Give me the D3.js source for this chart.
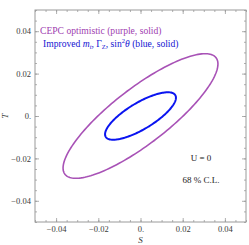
<!DOCTYPE html>
<html><head><meta charset="utf-8">
<script src="https://cdn.jsdelivr.net/npm/d3@7"></script>
<style>
html,body{margin:0;padding:0;background:#fff;}
svg{display:block;}
svg text{font-family:"Liberation Serif","Times New Roman",serif;}
</style></head>
<body><svg id="c" width="249" height="245"></svg>
<script>
// Data: ellipse contours (68% C.L.)
const seriesNames = ["CEPC optimistic", "Improved"];
const centerS = [0, 0];
const centerT = [0, 0];
const sigmaS = [0.0367, 0.0168];
const sigmaT = [0.0294, 0.0112];
const rho = [0.835, 0.77];
const colors = ["#a852b6", "#0a14f0"];
const widths = [1.6, 2.0];
const majorTicks = [-0.04, -0.02, 0, 0.02, 0.04];
const tickLabels = ["\u22120.04", "\u22120.02", "0.", "0.02", "0.04"];
const minorTicks = d3.range(-0.05, 0.0501, 0.005).map(v => +v.toFixed(3));

const svg = d3.select("#c");
const x = d3.scaleLinear([-0.05, 0.05], [35, 246]);
const y = d3.scaleLinear([-0.05, 0.05], [222, 10]);
const frameColor = "#9a9a9a";

svg.append("rect").attr("x", x(-0.05)).attr("y", y(0.05))
  .attr("width", x(0.05) - x(-0.05)).attr("height", y(-0.05) - y(0.05))
  .attr("fill", "none").attr("stroke", frameColor).attr("stroke-width", 1);

function fmt(d){ const i = majorTicks.findIndex(v => Math.abs(v - d) < 1e-9); return i >= 0 ? tickLabels[i] : ""; }

function addAxis(axisFn, scale, transform, size, values, labels) {
  const ax = axisFn(scale).tickValues(values).tickSizeInner(-size).tickSizeOuter(0)
    .tickPadding(4).tickFormat(labels ? fmt : () => "");
  const g = svg.append("g").attr("transform", transform).call(ax);
  g.select(".domain").remove();
  g.selectAll("line").attr("stroke", frameColor).attr("stroke-width", 0.8);
  g.selectAll("text").attr("fill", "#3a3a3a").attr("font-size", 8.5)
    .attr("font-family", null);
  return g;
}
const B = `translate(0,${y(-0.05)})`, T = `translate(0,${y(0.05)})`;
const L = `translate(${x(-0.05)},0)`, R = `translate(${x(0.05)},0)`;
addAxis(d3.axisBottom, x, B, 4, majorTicks, true);
addAxis(d3.axisBottom, x, B, 2, minorTicks, false);
addAxis(d3.axisTop, x, T, 4, majorTicks, false);
addAxis(d3.axisTop, x, T, 2, minorTicks, false);
addAxis(d3.axisLeft, y, L, 4, majorTicks, true);
addAxis(d3.axisLeft, y, L, 2, minorTicks, false);
addAxis(d3.axisRight, y, R, 4, majorTicks, false);
addAxis(d3.axisRight, y, R, 2, minorTicks, false);
svg.selectAll("g").attr("font-family", null);

const line = d3.line().x(d => x(d[0])).y(d => y(d[1])).curve(d3.curveLinearClosed);
seriesNames.forEach((n, i) => {
  const pts = d3.range(0, 360, 2).map(a => {
    const t = a * Math.PI / 180;
    return [centerS[i] + sigmaS[i] * Math.cos(t),
            centerT[i] + sigmaT[i] * (rho[i] * Math.cos(t) + Math.sqrt(1 - rho[i] * rho[i]) * Math.sin(t))];
  });
  svg.append("path").attr("d", line(pts)).attr("fill", "none")
    .attr("stroke", colors[i]).attr("stroke-width", widths[i]);
});

svg.append("text").attr("x", 40).attr("y", 34).attr("font-size", 9.6)
  .attr("fill", "#a040b0").text("CEPC optimistic (purple, solid)");
const t2 = svg.append("text").attr("x", 43).attr("y", 47).attr("font-size", 9.6).attr("fill", "#1414d2");
t2.append("tspan").text("Improved ");
t2.append("tspan").attr("font-style", "italic").text("m");
t2.append("tspan").attr("font-style", "italic").attr("font-size", 6.5).attr("dy", 2).text("t");
t2.append("tspan").attr("dy", -2).text(", \u0393");
t2.append("tspan").attr("font-size", 6.5).attr("dy", 2).text("Z");
t2.append("tspan").attr("dy", -2).text(", sin");
t2.append("tspan").attr("font-size", 6.5).attr("dy", -4).text("2");
t2.append("tspan").attr("dy", 4).attr("font-style", "italic").text("\u03b8");
t2.append("tspan").text(" (blue, solid)");

svg.append("text").attr("x", 201).attr("y", 161).attr("text-anchor", "middle")
  .attr("font-size", 9).attr("fill", "#222").text("U = 0");
svg.append("text").attr("x", 201).attr("y", 183).attr("text-anchor", "middle")
  .attr("font-size", 9).attr("fill", "#222").text("68 % C.L.");

svg.append("text").attr("x", x(0)).attr("y", 243).attr("text-anchor", "middle")
  .attr("font-size", 9).attr("font-style", "italic").attr("fill", "#333").text("S");
svg.append("text").attr("transform", `translate(8,${y(0)}) rotate(-90)`).attr("text-anchor", "middle")
  .attr("font-size", 9).attr("font-style", "italic").attr("fill", "#333").text("T");
</script></body></html>
